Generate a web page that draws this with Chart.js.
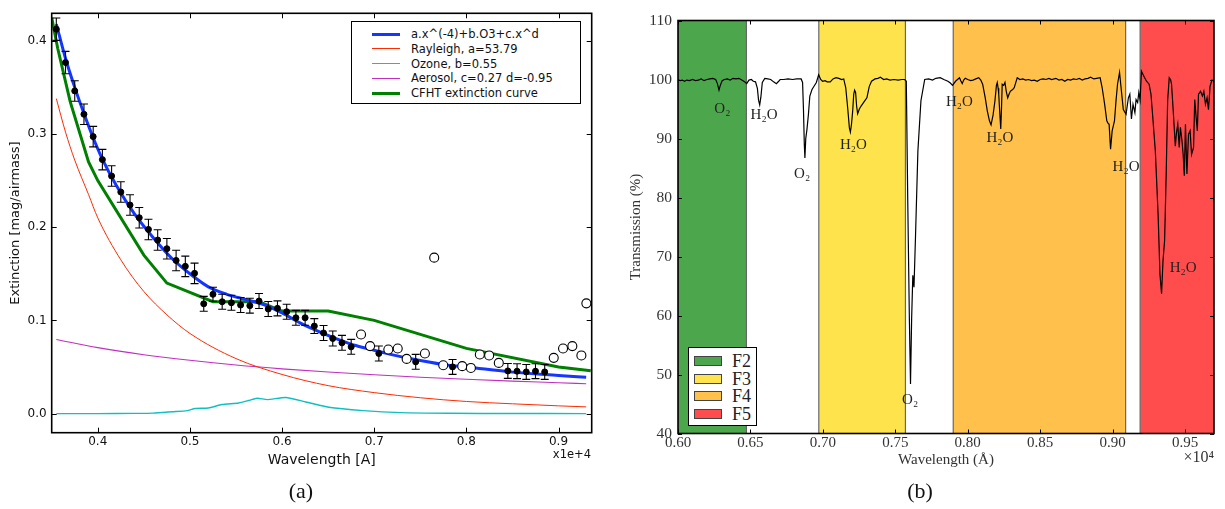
<!DOCTYPE html>
<html><head><meta charset="utf-8">
<script src="https://cdn.jsdelivr.net/npm/chart.js@4.4.0/dist/chart.umd.min.js"></script>
<style>
html,body{margin:0;padding:0;background:#fff;width:1225px;height:509px;overflow:hidden;position:relative}
canvas{position:absolute;top:0}
#c1{left:0}
#c2{left:620px}
.cap{position:absolute;font-family:"Liberation Serif","DejaVu Serif",serif;font-size:22px;color:#111;width:60px;text-align:center}
.leg{position:absolute;background:#fff;border:1px solid #000;box-sizing:border-box}
.row{position:absolute;left:0;right:0;height:14px}
.sw{position:absolute}
.lt{position:absolute;white-space:nowrap}
</style>
</head><body>
<canvas id="c1" width="610" height="480"></canvas>
<canvas id="c2" width="605" height="480"></canvas>
<div class="cap" style="left:271px;top:478px">(a)</div>
<div class="cap" style="left:890px;top:478px">(b)</div>
<div style="position:absolute;left:530px;width:61px;top:447px;text-align:right;font-family:'DejaVu Sans';font-size:11.5px;color:#111">x1e+4</div>
<div style="position:absolute;left:1150px;width:64px;top:448px;text-align:right;font-family:'Liberation Serif','DejaVu Serif',serif;font-size:16px;color:#333">×10⁴</div>
<div id="leg1" class="leg" style="left:351px;top:21px;width:230px;height:83px;font-family:'DejaVu Sans';font-size:11.5px;color:#111"></div>
<div id="leg2" class="leg" style="left:688px;top:347px;width:69px;height:79px;border-width:1.5px;font-family:'Liberation Serif','DejaVu Serif',serif;font-size:18px;color:#222"></div>
<script>
// ---------- Panel (a): extinction ----------
const extTicksX = [0.4, 0.5, 0.6, 0.7, 0.8, 0.9];
const extTicksY = [0.0, 0.1, 0.2, 0.3, 0.4];

const ptWave = [0.355,0.365,0.375,0.385,0.395,0.405,0.415,0.425,0.435,0.445,0.455,0.465,0.475,0.485,0.495,0.505,
  0.515,0.525,0.535,0.545,0.555,0.565,0.575,0.585,0.595,0.605,0.615,0.625,0.635,0.645,0.655,0.665,0.675,
  0.705,0.745,0.785,0.845,0.855,0.865,0.875,0.885];
const ptExt = [0.4125,0.3767,0.3462,0.3212,0.2972,0.2725,0.2549,0.2377,0.2238,0.2102,0.1976,0.1862,0.1769,0.1643,0.1580,0.1505,
  0.1178,0.1280,0.1200,0.1189,0.1165,0.1158,0.1208,0.1122,0.1129,0.1093,0.1028,0.1028,0.0939,0.0865,0.0806,0.0759,0.0716,
  0.0645,0.0555,0.0501,0.0458,0.0455,0.0447,0.0455,0.0447];
const ptErr = [0.012,0.012,0.011,0.011,0.011,0.011,0.011,0.011,0.011,0.011,0.011,0.011,0.011,0.011,0.011,0.011,
  0.008,0.0075,0.008,0.008,0.008,0.008,0.008,0.008,0.008,0.008,0.008,0.008,0.008,0.008,0.008,0.008,0.008,
  0.008,0.008,0.008,0.008,0.008,0.008,0.008,0.008];

const openWave = [0.6857,0.6955,0.7153,0.7255,0.7352,0.755,0.7651,0.7749,0.7955,0.8049,0.8146,0.8247,0.8352,0.8948,0.9049,0.915,0.9248,0.9302];
const openExt = [0.0849,0.0724,0.0688,0.0699,0.0587,0.0645,0.1673,0.0519,0.0509,0.0490,0.0634,0.0624,0.0544,0.0598,0.0699,0.0724,0.0624,0.1183];

const fitWave = [0.355,0.365,0.375,0.385,0.395,0.405,0.42,0.44,0.46,0.48,0.50,0.52,0.54,0.56,0.58,0.60,0.62,0.64,0.66,0.68,0.70,0.72,0.75,0.78,0.80,0.85,0.90,0.93];
const fitExt = [0.418,0.381,0.350,0.322,0.296,0.273,0.245,0.214,0.189,0.167,0.150,0.136,0.128,0.1225,0.117,0.108,0.097,0.088,0.080,0.073,0.068,0.063,0.057,0.052,0.050,0.0445,0.041,0.039];

const cfhtWave = [0.350,0.3565,0.370,0.390,0.400,0.450,0.475,0.525,0.575,0.600,0.650,0.700,0.800,0.900,0.935];
const cfhtExt = [0.425,0.392,0.335,0.270,0.250,0.170,0.140,0.120,0.120,0.110,0.110,0.100,0.070,0.050,0.046];

const rayWave = [0.355,0.365,0.375,0.39,0.40,0.425,0.45,0.475,0.50,0.55,0.60,0.65,0.70,0.75,0.80,0.85,0.90,0.93];
const rayExt = [0.338,0.302,0.272,0.235,0.210,0.165,0.131,0.106,0.086,0.059,0.042,0.030,0.0225,0.017,0.013,0.0105,0.0083,0.0072];

const ozWave = [0.355,0.40,0.44,0.46,0.481,0.497,0.5056,0.52,0.5346,0.553,0.5636,0.5727,0.584,0.604,0.6258,0.6506,0.688,0.729,0.78,0.85,0.93];
const ozExt = [0,0,0.0002,0.0005,0.002,0.0032,0.0055,0.006,0.0097,0.0114,0.014,0.0165,0.015,0.0172,0.0125,0.0068,0.0032,0.001,0.0003,0.0001,0];

const aerWave = [0.355,0.40,0.45,0.50,0.55,0.60,0.65,0.70,0.75,0.80,0.85,0.90,0.93];
const aerExt = [0.0795,0.0708,0.0632,0.0572,0.0521,0.0480,0.0446,0.0416,0.0390,0.0368,0.0348,0.0331,0.0320];

const legend1 = [
  {label:'a.x^(-4)+b.O3+c.x^d', color:'#1436ff', width:3},
  {label:'Rayleigh, a=53.79', color:'#ff2a00', width:1},
  {label:'Ozone, b=0.55', color:'#10c0c0', width:1.4},
  {label:'Aerosol, c=0.27 d=-0.95', color:'#c030c0', width:1.1},
  {label:'CFHT extinction curve', color:'#008000', width:3}
];

// ---------- Panel (b): transmission ----------
const transTicksX = [0.60,0.65,0.70,0.75,0.80,0.85,0.90,0.95];
const transTicksY = [40,50,60,70,80,90,100,110];

const filterNames = ['F2','F3','F4','F5'];
const filterStart = [0.600,0.6972,0.790,0.919];
const filterEnd   = [0.6472,0.757,0.909,0.970];
const filterColor = ['rgba(0,128,0,0.7)','rgba(255,215,0,0.7)','rgba(255,165,0,0.7)','rgba(255,0,0,0.7)'];

const specWave = [0.6000,0.6015,0.6030,0.6045,0.6060,0.6080,0.6100,0.6120,0.6140,0.6160,0.6180,0.6200,0.6220,0.6240,0.6260,0.6272,0.6283,0.6292,0.6305,0.6320,
0.6340,0.6360,0.6380,0.6400,0.6420,0.6440,0.6460,0.6474,0.6490,0.6506,0.6520,0.6535,0.6548,0.6556,0.6564,0.6572,0.6582,0.6599,0.6620,0.6640,
0.6660,0.6679,0.6695,0.6705,0.6730,0.6760,0.6790,0.6820,0.6850,0.6860,0.6866,0.6872,0.6876,0.6882,0.6890,0.6900,0.6910,0.6925,0.6940,0.6955,
0.6971,0.6985,0.6998,0.7015,0.7030,0.7051,0.7070,0.7091,0.7110,0.7130,0.7144,0.7158,0.7172,0.7183,0.7190,0.7198,0.7206,0.7213,0.7219,0.7226,
0.7233,0.7240,0.7252,0.7264,0.7284,0.7304,0.7320,0.7336,0.7360,0.7380,0.7397,0.7420,0.7440,0.7464,0.7490,0.7520,0.7545,0.7565,0.7576,0.7586,
0.7597,0.7605,0.7613,0.7621,0.7629,0.7640,0.7656,0.7677,0.7703,0.7730,0.7757,0.7780,0.7810,0.7835,0.7863,0.7880,0.7895,0.7916,0.7943,0.7952,
0.7962,0.7972,0.7983,0.8000,0.8020,0.8036,0.8056,0.8076,0.8090,0.8103,0.8120,0.8135,0.8150,0.8161,0.8175,0.8188,0.8198,0.8204,0.8210,0.8214,
0.8222,0.8228,0.8233,0.8238,0.8248,0.8257,0.8266,0.8276,0.8285,0.8294,0.8310,0.8321,0.8332,0.8342,0.8360,0.8380,0.8400,0.8420,0.8440,0.8460,
0.8480,0.8500,0.8520,0.8540,0.8560,0.8580,0.8608,0.8630,0.8650,0.8670,0.8690,0.8710,0.8730,0.8750,0.8770,0.8790,0.8810,0.8830,0.8848,0.8870,
0.8890,0.8914,0.8928,0.8944,0.8960,0.8968,0.8976,0.8986,0.8997,0.9013,0.9024,0.9034,0.9048,0.9061,0.9074,0.9093,0.9109,0.9119,0.9130,0.9141,
0.9154,0.9162,0.9173,0.9181,0.9190,0.9199,0.9215,0.9234,0.9252,0.9265,0.9274,0.9295,0.9314,0.9327,0.9338,0.9348,0.9359,0.9370,0.9380,0.9391,
0.9400,0.9407,0.9420,0.9433,0.9441,0.9450,0.9460,0.9468,0.9479,0.9487,0.9495,0.9503,0.9513,0.9524,0.9535,0.9545,0.9559,0.9567,0.9577,0.9585,
0.9593,0.9607,0.9620,0.9630,0.9641,0.9652,0.9662,0.9673,0.9686,0.9700];
const specTrans = [100.0,99.8,99.9,99.7,99.9,99.8,100.0,99.8,99.9,100.1,99.8,100.0,100.1,100.2,100.0,99.3,98.2,99.0,99.8,100.0,
100.1,99.9,100.2,100.1,100.2,99.9,99.6,99.3,99.9,100.0,99.7,99.6,98.5,96.5,95.7,97.0,99.5,100.2,100.1,100.0,
99.6,99.3,99.7,100.0,100.0,100.1,100.0,100.1,100.1,99.5,95.0,89.0,86.7,90.0,91.5,94.0,97.2,98.3,98.9,99.5,
100.8,100.0,99.7,99.8,99.6,99.6,100.1,100.3,100.2,100.0,100.1,98.6,95.0,91.8,91.1,92.5,94.7,97.5,98.2,97.8,
95.5,94.2,95.0,95.5,96.2,96.9,98.8,99.7,100.1,100.2,100.4,100.0,100.1,99.9,100.0,99.9,100.0,100.0,99.7,79.4,
59.7,48.4,59.7,66.8,64.8,73.8,87.9,96.4,100.0,100.1,99.9,100.2,100.3,100.0,99.7,99.4,99.0,99.7,100.3,99.8,
99.3,99.9,100.2,100.0,99.8,99.9,100.1,100.3,99.9,99.2,97.0,94.7,93.0,92.3,94.0,96.4,99.0,99.5,98.5,97.5,
94.0,91.6,95.0,99.2,99.0,99.5,98.0,96.9,97.5,98.0,98.3,98.6,99.5,100.3,100.0,100.1,99.9,100.0,99.8,99.9,
99.7,100.0,100.1,100.0,100.2,100.0,100.2,99.9,100.0,99.7,100.0,99.9,100.1,100.0,100.2,99.9,100.1,100.2,100.4,100.1,
100.2,100.3,98.6,96.0,93.0,92.6,92.4,88.2,91.3,93.0,96.5,99.2,101.2,98.0,94.9,94.1,96.9,97.5,93.3,95.8,
94.4,96.6,96.1,97.8,96.5,101.4,100.6,99.7,99.2,97.5,94.7,87.9,77.2,67.0,63.7,69.3,72.7,84.0,96.4,100.3,
100.0,99.2,94.1,88.7,91.0,92.4,88.5,91.9,89.6,87.3,83.7,92.4,84.0,90.7,91.3,87.3,88.5,96.6,93.5,91.3,
97.5,98.0,97.2,98.0,95.8,96.9,94.9,98.9,99.9,99.7];

const annoText = ['O₂','H₂O','O₂','H₂O','O₂','H₂O','H₂O','H₂O','H₂O'];
const annoWave = [0.6306,0.6594,0.6857,0.7211,0.7602,0.7943,0.8222,0.9093,0.9487];
const annoTrans = [95.0,94.0,84.0,88.9,45.7,96.1,90.0,85.1,68.0];

// ---------- plugins ----------
const frameTicks = {
  id: 'frameTicks',
  afterDraw(chart, args, o) {
    const {ctx, chartArea: a, scales} = chart;
    ctx.save();
    ctx.strokeStyle = '#000';
    ctx.lineWidth = 1;
    ctx.beginPath();
    scales.x.ticks.forEach(t => {
      const p = Math.round(scales.x.getPixelForValue(t.value)) + 0.5;
      ctx.moveTo(p, a.bottom); ctx.lineTo(p, a.bottom - o.len);
      ctx.moveTo(p, a.top); ctx.lineTo(p, a.top + o.len);
    });
    scales.y.ticks.forEach(t => {
      const p = Math.round(scales.y.getPixelForValue(t.value)) + 0.5;
      ctx.moveTo(a.left, p); ctx.lineTo(a.left + o.len, p);
      ctx.moveTo(a.right, p); ctx.lineTo(a.right - o.len, p);
    });
    ctx.stroke();
    ctx.lineWidth = o.border;
    ctx.strokeRect(a.left, a.top, a.right - a.left, a.bottom - a.top);
    ctx.restore();
  }
};

const errorBars = {
  id: 'errorBars',
  beforeDatasetDraw(chart, args) {
    if (args.index !== 0) return;
    const {ctx, scales: {x, y}} = chart;
    ctx.save();
    ctx.strokeStyle = '#000';
    ctx.lineWidth = 1.1;
    ptWave.forEach((w, i) => {
      const px = x.getPixelForValue(w);
      const y0 = y.getPixelForValue(ptExt[i] - ptErr[i]);
      const y1 = y.getPixelForValue(ptExt[i] + ptErr[i]);
      ctx.beginPath();
      ctx.moveTo(px, y0); ctx.lineTo(px, y1);
      ctx.moveTo(px - 4, y0); ctx.lineTo(px + 4, y0);
      ctx.moveTo(px - 4, y1); ctx.lineTo(px + 4, y1);
      ctx.stroke();
    });
    ctx.restore();
  }
};

const annotations = {
  id: 'annotations',
  afterDatasetsDraw(chart) {
    const {ctx, scales: {x, y}} = chart;
    ctx.save();
    ctx.fillStyle = '#222';
    ctx.font = '15px "Liberation Serif", "DejaVu Serif", serif';
    ctx.textAlign = 'center';
    ctx.textBaseline = 'middle';
    annoText.forEach((t, i) => ctx.fillText(t, x.getPixelForValue(annoWave[i]), y.getPixelForValue(annoTrans[i])));
    ctx.restore();
  }
};

const xy = (xs, ys) => xs.map((v, i) => ({x: v, y: ys[i]}));
const sansTick = {family: 'DejaVu Sans', size: 12};
const serifFont = (s) => ({family: '"Liberation Serif", "DejaVu Serif", serif', size: s});
const noGrid = {display: false, drawTicks: false, tickLength: 0};

// ---------- chart (a) ----------
new Chart(document.getElementById('c1'), {
  type: 'scatter',
  data: {
    datasets: [
      {data: xy(ptWave, ptExt), pointRadius: 3, pointBackgroundColor: '#000', pointBorderColor: '#000', showLine: false},
      {data: xy(openWave, openExt), pointRadius: 4.5, pointBackgroundColor: '#fff', pointBorderColor: '#000', pointBorderWidth: 1.1, showLine: false, clip: false},
      {data: xy(fitWave, fitExt), showLine: true, borderColor: legend1[0].color, borderWidth: 3, pointRadius: 0, cubicInterpolationMode: 'monotone'},
      {data: xy(cfhtWave, cfhtExt), showLine: true, borderColor: legend1[4].color, borderWidth: 3, pointRadius: 0, tension: 0},
      {data: xy(rayWave, rayExt), showLine: true, borderColor: legend1[1].color, borderWidth: 1, pointRadius: 0, cubicInterpolationMode: 'monotone'},
      {data: xy(ozWave, ozExt), showLine: true, borderColor: legend1[2].color, borderWidth: 1.4, pointRadius: 0, tension: 0.2},
      {data: xy(aerWave, aerExt), showLine: true, borderColor: legend1[3].color, borderWidth: 1.1, pointRadius: 0, cubicInterpolationMode: 'monotone'}
    ]
  },
  options: {
    responsive: false, animation: false, devicePixelRatio: 1, events: [],
    layout: {padding: {top: 13.3, right: 18.3, left: 0, bottom: 0}},
    plugins: {legend: {display: false}, tooltip: {enabled: false}, frameTicks: {len: 5, border: 1.6}},
    scales: {
      x: {
        type: 'linear', min: 0.35, max: 0.936,
        grid: noGrid, border: {display: false},
        afterBuildTicks: s => { s.ticks = extTicksX.map(v => ({value: v})); },
        afterFit: s => { s.height = 47.3; },
        ticks: {font: sansTick, color: '#111', padding: 2, maxRotation: 0, callback: v => v.toFixed(1)},
        title: {display: true, text: 'Wavelength [A]', font: {family: 'DejaVu Sans', size: 14}, color: '#111', padding: {top: 0, bottom: 11}}
      },
      y: {
        type: 'linear', min: -0.0205, max: 0.4295,
        grid: noGrid, border: {display: false},
        afterBuildTicks: s => { s.ticks = extTicksY.map(v => ({value: v})); },
        afterFit: s => { s.width = 51.7; },
        ticks: {font: sansTick, color: '#111', padding: 5, callback: v => v.toFixed(1)},
        title: {display: true, text: 'Extinction [mag/airmass]', font: {family: 'DejaVu Sans', size: 13}, color: '#111', padding: {top: 8, bottom: 0}}
      }
    }
  },
  plugins: [errorBars, frameTicks]
});

// ---------- chart (b) ----------
const bandSets = filterNames.map((n, i) => ({
  label: n,
  data: [{x: filterStart[i], y: 40}, {x: filterStart[i], y: 110}, {x: filterEnd[i], y: 110}, {x: filterEnd[i], y: 40}],
  showLine: true, fill: 'start', backgroundColor: filterColor[i], borderColor: '#666', borderWidth: 1.2,
  pointRadius: 0, tension: 0, order: 2
}));

new Chart(document.getElementById('c2'), {
  type: 'scatter',
  data: {
    datasets: [
      {data: xy(specWave, specTrans), showLine: true, borderColor: '#000', borderWidth: 1.2, pointRadius: 0, tension: 0, order: 0},
      ...bandSets
    ]
  },
  options: {
    responsive: false, animation: false, devicePixelRatio: 1, events: [],
    layout: {padding: {top: 20.5, right: 11, left: 0, bottom: 0}},
    plugins: {legend: {display: false}, tooltip: {enabled: false}, frameTicks: {len: 4, border: 1.6}},
    scales: {
      x: {
        type: 'linear', min: 0.60, max: 0.97,
        grid: noGrid, border: {display: false},
        afterBuildTicks: s => { s.ticks = transTicksX.map(v => ({value: v})); },
        afterFit: s => { s.height = 46.5; },
        ticks: {font: serifFont(15), color: '#333', padding: 1, maxRotation: 0, callback: v => v.toFixed(2)},
        title: {display: true, text: 'Wavelength (Å)', font: serifFont(15), color: '#333', padding: {top: 0, bottom: 11}}
      },
      y: {
        type: 'linear', min: 40, max: 110,
        grid: noGrid, border: {display: false},
        afterBuildTicks: s => { s.ticks = transTicksY.map(v => ({value: v})); },
        afterFit: s => { s.width = 58; },
        ticks: {font: serifFont(15.5), color: '#333', padding: 6, callback: v => String(v)},
        title: {display: true, text: 'Transmission (%)', font: serifFont(15), color: '#333', padding: {top: 7, bottom: 0}}
      }
    }
  },
  plugins: [annotations, frameTicks]
});

// ---------- HTML legends ----------
const l1 = document.getElementById('leg1');
legend1.forEach((e, i) => {
  const r = document.createElement('div');
  r.className = 'row';
  r.style.top = (5 + i * 14.8) + 'px';
  r.innerHTML = `<div class="sw" style="left:20px;width:28px;top:${7 - e.width / 2}px;height:${e.width}px;background:${e.color}"></div>` +
    `<div class="lt" style="left:59px;top:0;line-height:14px">${e.label}</div>`;
  l1.appendChild(r);
});
const l2 = document.getElementById('leg2');
filterNames.forEach((n, i) => {
  const r = document.createElement('div');
  r.className = 'row';
  r.style.top = (3 + i * 17.7) + 'px';
  r.style.height = '20px';
  r.innerHTML = `<div class="sw" style="left:5px;width:28px;top:5px;height:10px;background:${filterColor[i]};border:1px solid #444;box-sizing:border-box"></div>` +
    `<div class="lt" style="left:43px;top:0;line-height:20px">${n}</div>`;
  l2.appendChild(r);
});
</script>
</body></html>
